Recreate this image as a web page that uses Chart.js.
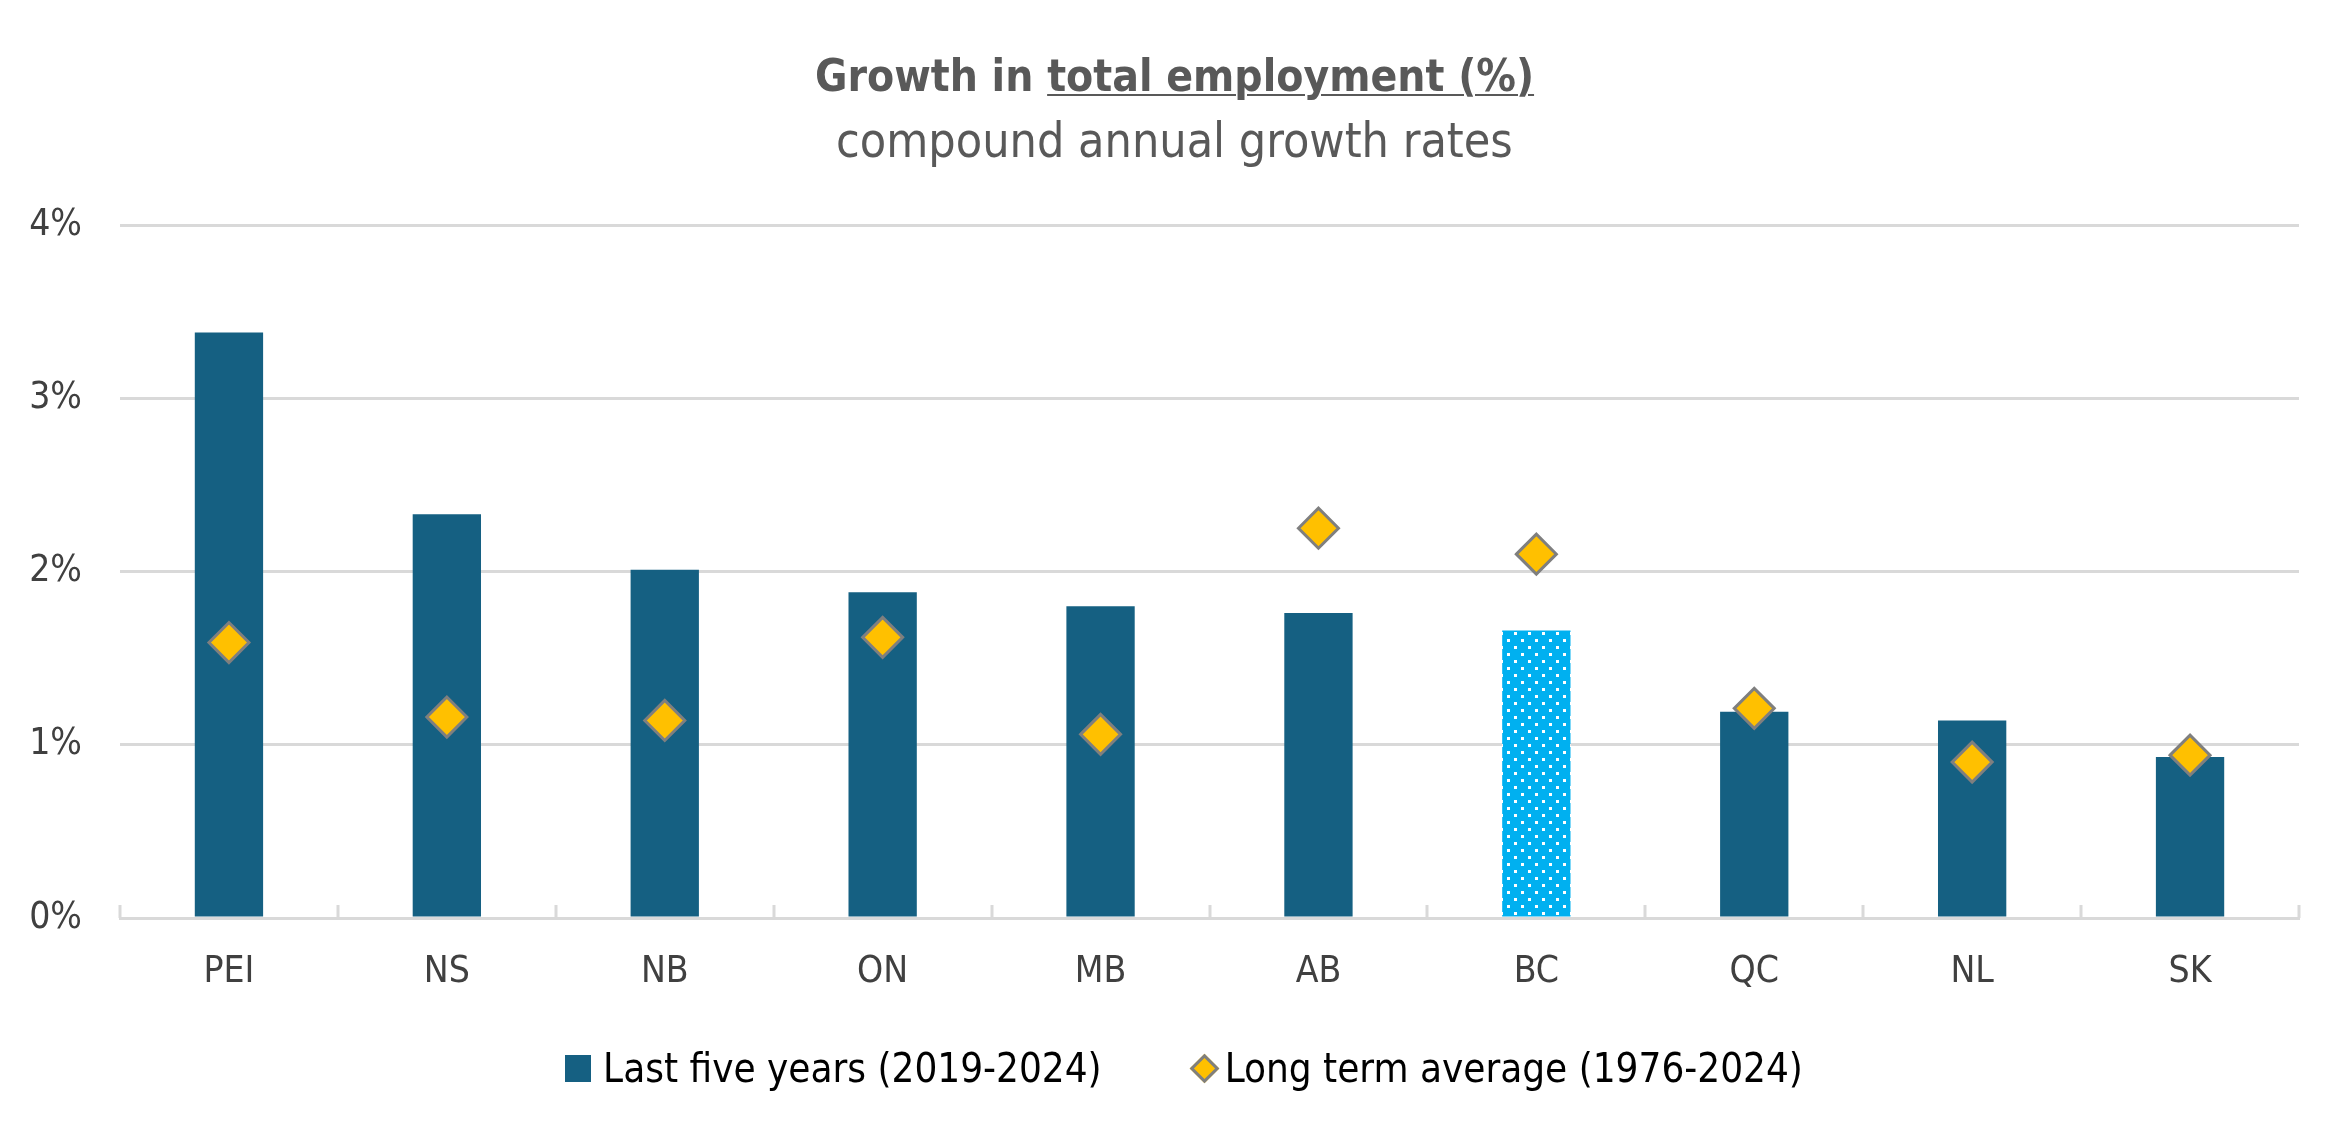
<!DOCTYPE html>
<html>
<head>
<meta charset="utf-8">
<script src="https://cdn.jsdelivr.net/npm/chart.js@4.4.1/dist/chart.umd.min.js"></script>
<style>
  body { margin: 0; background: #fff; }
  #wrap { position: relative; width: 2349px; height: 1135px; }
  #myChart { position: absolute; left: 0; top: 0; }
  #title {
    position: absolute; left: 0; top: 44px; width: 2349px;
    text-align: center; color: #595959; font-family: "DejaVu Sans Condensed", "DejaVu Sans", sans-serif; line-height: 64px;
  }
  #title .t1 { font-size: 44px; font-weight: bold; }
  #title .t1 u { text-decoration-thickness: 2px; text-underline-offset: 3px; }
  #title .t2 { font-size: 48px; }
  #legend {
    position: absolute; left: 0; top: 1044px; height: 48px; width: 2349px; padding-left: 19px; box-sizing: border-box;
    display: flex; justify-content: center; align-items: center;
    font-family: "DejaVu Sans Condensed", "DejaVu Sans", sans-serif; font-size: 40px; color: #000; line-height: 48px;
  }
  .item { display: flex; align-items: center; }
  .sq { width: 26px; height: 27px; background: #156082; margin-right: 12px; }
  .dm { width: 15px; height: 15px; background: #FFC000; border: 3px solid #7F7F7F; transform: rotate(45deg); margin: 0 10px 0 92px; }
</style>
</head>
<body>
<div id="wrap">
  <canvas id="myChart" width="2349" height="1135"></canvas>
  <div id="title">
    <div class="t1">Growth in <u>total employment (%)</u></div>
    <div class="t2">compound annual growth rates</div>
  </div>
  <div id="legend">
    <div class="item"><div class="sq"></div>Last five years (2019-2024)</div>
    <div class="item"><div class="dm"></div>Long term average (1976-2024)</div>
  </div>
</div>
<script>
const labels = ['PEI', 'NS', 'NB', 'ON', 'MB', 'AB', 'BC', 'QC', 'NL', 'SK'];
const lastFive = [3.38, 2.33, 2.01, 1.88, 1.80, 1.76, 1.66, 1.19, 1.14, 0.93];
const longTerm = [1.59, 1.16, 1.14, 1.62, 1.06, 2.25, 2.10, 1.21, 0.90, 0.94];
const yTicks = [0, 1, 2, 3, 4];
const highlight = 'BC';

const tickFont = { family: 'DejaVu Sans Condensed', size: 37 };

// dotted fill for the highlighted bar
const tile = document.createElement('canvas');
tile.width = 14;
tile.height = 14;
const tctx = tile.getContext('2d');
tctx.fillStyle = '#00B0F0';
tctx.fillRect(0, 0, 14, 14);
tctx.fillStyle = '#ffffff';
tctx.fillRect(2, 2, 3, 3);
tctx.fillRect(9, 9, 3, 3);

const ctx = document.getElementById('myChart').getContext('2d');
const dotted = ctx.createPattern(tile, 'repeat');
const barColors = labels.map(l => l === highlight ? dotted : '#156082');

// small tick marks between categories, standing up from the axis
const catTicks = {
    id: 'catTicks',
    afterDatasetsDraw(chart) {
        const x = chart.scales.x;
        const c = chart.ctx;
        c.save();
        c.strokeStyle = '#D9D9D9';
        c.lineWidth = 3;
        for (let i = 0; i <= labels.length; i++) {
            const px = Math.round(x.getPixelForValue(i - 0.5));
            c.beginPath();
            c.moveTo(px, x.top);
            c.lineTo(px, x.top - 13);
            c.stroke();
        }
        c.restore();
    }
};

const myChart = new Chart(ctx, {
    type: 'bar',
    data: {
        labels: labels,
        datasets: [
            {
                type: 'line',
                label: 'Long term average (1976-2024)',
                data: longTerm,
                showLine: false,
                pointStyle: 'rectRot',
                pointRadius: 20,
                pointHoverRadius: 20,
                pointBackgroundColor: '#FFC000',
                pointBorderColor: '#7F7F7F',
                pointBorderWidth: 3,
                order: 1
            },
            {
                label: 'Last five years (2019-2024)',
                data: lastFive,
                backgroundColor: barColors,
                borderWidth: 0,
                categoryPercentage: 1,
                barPercentage: 0.3135,
                order: 2
            }
        ]
    },
    options: {
        responsive: false,
        devicePixelRatio: 1,
        animation: false,
        layout: { padding: { top: 225, right: 50, bottom: 117, left: 25 } },
        plugins: {
            legend: { display: false },
            tooltip: { enabled: false }
        },
        scales: {
            x: {
                grid: { display: false },
                border: { display: true, color: '#D9D9D9', width: 3 },
                ticks: {
                    color: '#404040',
                    padding: 24,
                    font: tickFont
                },
                afterFit(scale) { scale.height = 100; }
            },
            y: {
                min: 0,
                max: 4,
                afterBuildTicks(scale) { scale.ticks = yTicks.map(v => ({ value: v })); },
                grid: { color: '#D9D9D9', lineWidth: 3, drawTicks: false },
                border: { display: false },
                ticks: {
                    color: '#404040',
                    padding: 38,
                    font: tickFont,
                    callback: v => v + '%'
                },
                afterFit(scale) { scale.width = 95; }
            }
        }
    },
    plugins: [catTicks]
});
</script>
</body>
</html>
